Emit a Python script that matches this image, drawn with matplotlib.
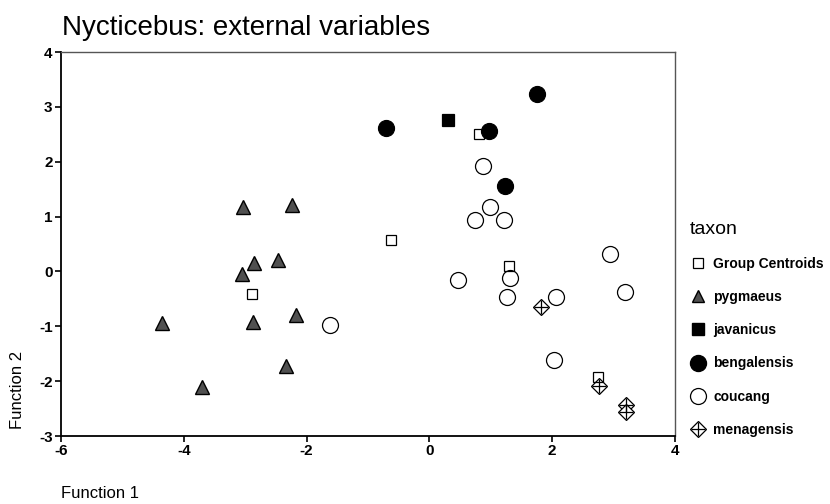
import matplotlib
matplotlib.use("Agg")
import matplotlib.pyplot as plt
from matplotlib.lines import Line2D
from matplotlib.legend_handler import HandlerTuple

plt.rcParams['font.family'] = ['Liberation Sans', 'DejaVu Sans']

# ---- data (Function 1, Function 2) ----
centroid_x = [-2.89, 0.81, -0.63, 1.29, 2.75]
centroid_y = [-0.41, 2.50, 0.58, 0.10, -1.93]

pygmaeus_x = [-3.03, -2.24, -2.85, -2.47, -3.05, -2.87, -2.18, -4.35, -2.34, -3.70]
pygmaeus_y = [1.18, 1.21, 0.15, 0.20, -0.04, -0.93, -0.79, -0.94, -1.72, -2.10]

javanicus_x = [0.31]
javanicus_y = [2.76]

bengalensis_x = [-0.71, 0.97, 1.75, 1.23]
bengalensis_y = [2.61, 2.56, 3.24, 1.56]

coucang_x = [-1.62, 0.88, 0.98, 0.74, 1.21, 0.46, 1.32, 1.26, 2.06, 2.03, 2.94, 3.19]
coucang_y = [-0.97, 1.93, 1.18, 0.94, 0.94, -0.15, -0.12, -0.46, -0.46, -1.61, 0.32, -0.37]

menagensis_x = [1.82, 2.76, 3.20, 3.20]
menagensis_y = [-0.65, -2.08, -2.44, -2.56]

xticks = [-6, -4, -2, 0, 2, 4]
yticks = [-3, -2, -1, 0, 1, 2, 3, 4]

fig = plt.figure(figsize=(8.30, 5.04), dpi=100)
ax = fig.add_axes([61/830, (504-436)/504, (675-61)/830, (436-52)/504])

# markers
ax.plot(pygmaeus_x, pygmaeus_y, ls='none', marker='^', ms=10, mfc='#505050',
        mec='black', mew=1.0, zorder=3)
ax.plot(coucang_x, coucang_y, ls='none', marker='o', ms=11.5, mfc='white',
        mec='black', mew=0.9, zorder=3)
ax.plot(bengalensis_x, bengalensis_y, ls='none', marker='o', ms=11.5, mfc='black',
        mec='black', mew=0.9, zorder=4)
ax.plot(javanicus_x, javanicus_y, ls='none', marker='s', ms=8.5, mfc='black',
        mec='black', mew=0.9, zorder=4)
ax.plot(menagensis_x, menagensis_y, ls='none', marker='D', ms=8, mfc='white',
        mec='black', mew=0.9, zorder=3)
ax.plot(menagensis_x, menagensis_y, ls='none', marker='+', ms=10.5, mec='black',
        mew=0.9, zorder=3)
ax.plot(centroid_x, centroid_y, ls='none', marker='s', ms=7.5, mfc='none',
        mec='black', mew=0.9, zorder=5)

ax.set_xlim(-6, 4)
ax.set_ylim(-3, 4)
ax.set_xticks(xticks)
ax.set_yticks(yticks)
ax.set_xticklabels([str(t) for t in xticks], fontsize=11, fontweight='bold')
ax.set_yticklabels([str(t) for t in yticks], fontsize=11, fontweight='bold')
ax.tick_params(direction='out', length=4, width=1.2, pad=2)

for s in ['left', 'bottom']:
    ax.spines[s].set_linewidth(1.3)
    ax.spines[s].set_color('black')
for s in ['top', 'right']:
    ax.spines[s].set_linewidth(1.0)
    ax.spines[s].set_color('#555555')

fig.text(62/830, 1 - 35/504, 'Nycticebus: external variables', fontsize=20,
         ha='left', va='baseline')
fig.text(61/830, 1 - 493/504, 'Function 1', fontsize=12, ha='left', va='center')
fig.text(18/830, 1 - 390/504, 'Function 2', fontsize=12, ha='center', va='center',
         rotation=90)

diamond = Line2D([], [], ls='none', marker='D', ms=8, mfc='white', mec='black', mew=0.9)
cross = Line2D([], [], ls='none', marker='+', ms=10.5, mec='black', mew=0.9)
handles = [
    Line2D([], [], ls='none', marker='s', ms=7.5, mfc='none', mec='black', mew=0.9),
    Line2D([], [], ls='none', marker='^', ms=9, mfc='#505050', mec='black', mew=1.0),
    Line2D([], [], ls='none', marker='s', ms=8.5, mfc='black', mec='black'),
    Line2D([], [], ls='none', marker='o', ms=11.5, mfc='black', mec='black'),
    Line2D([], [], ls='none', marker='o', ms=11.5, mfc='white', mec='black', mew=0.9),
    (diamond, cross),
]
labels = ['Group Centroids', 'pygmaeus', 'javanicus', 'bengalensis', 'coucang',
          'menagensis']
leg = fig.legend(handles, labels, loc='upper left',
                 bbox_to_anchor=(680/830, 1 - 211/504), frameon=False,
                 prop={'size': 10, 'weight': 'bold'}, title='taxon',
                 title_fontproperties={'size': 14}, alignment='left',
                 labelspacing=1.38, handletextpad=0.5, handlelength=1.2,
                 borderpad=0.2,
                 handler_map={tuple: HandlerTuple(ndivide=1, pad=0)})

fig.savefig('out.png', dpi=100)
